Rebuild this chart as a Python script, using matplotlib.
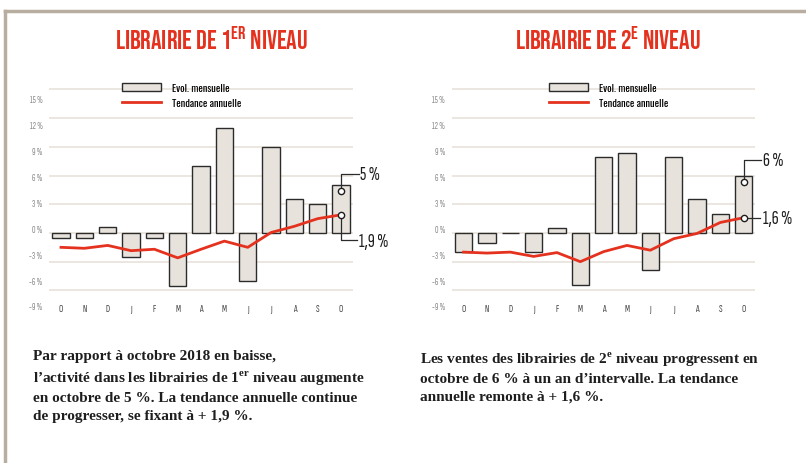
import matplotlib
matplotlib.use('Agg')
import matplotlib.pyplot as plt
from matplotlib.patches import Patch
from matplotlib.lines import Line2D
from matplotlib import font_manager

# Data
# ------------------------------------------------------------------------------
months = ['O', 'N', 'D', 'J', 'F', 'M', 'A', 'M', 'J', 'J', 'A', 'S', 'O']
yticks = [-9, -6, -3, 0, 3, 6, 9, 12, 15]
ytick_labels = ['-9 %', '-6 %', '-3 %', '0 %', '3 %', '6 %', '9 %', '12 %', '15 %']

niv1_mensuel = [-0.5, -0.5, 0.6, -2.5, -0.5, -5.5, 7.0, 11.0, -5.0, 9.0, 3.5, 3.0, 5.0]
niv1_tendance = [-1.5, -1.6, -1.3, -1.85, -1.7, -2.6, -1.7, -0.85, -1.5, 0.05, 0.7, 1.5, 1.9]

niv2_mensuel = [-2.0, -1.0, 0.0, -2.0, 0.5, -5.4, 7.9, 8.4, -3.9, 7.9, 3.5, 2.0, 6.0]
niv2_tendance = [-2.0, -2.1, -2.0, -2.45, -2.05, -3.0, -1.95, -1.3, -1.8, -0.6, -0.05, 1.1, 1.6]

titles = [r'LIBRAIRIE DE 1$^{\mathsf{ER}}$ NIVEAU', r'LIBRAIRIE DE 2$^{\mathsf{E}}$ NIVEAU']
labels_bar = ['5 %', '6 %']
labels_line = ['1,9 %', '1,6 %']
texts = [
    'Par rapport à octobre 2018 en baisse,\n'
    'l’activité dans les librairies de 1$^{\\mathbf{er}}$ niveau augmente\n'
    'en octobre de 5 %. La tendance annuelle continue\n'
    'de progresser, se fixant à + 1,9 %.',
    'Les ventes des librairies de 2$^{\\mathbf{e}}$ niveau progressent en\n'
    'octobre de 6 % à un an d’intervalle. La tendance\n'
    'annuelle remonte à + 1,6 %.',
]

# Style
# ------------------------------------------------------------------------------
names = {f.name for f in font_manager.fontManager.ttflist}


def pick(*cands):
    for c in cands:
        if c in names:
            return c
    return 'DejaVu Sans'


TITLE = pick('Bebas Neue', 'Oswald', 'Fjalla One', 'Anton', 'Roboto Condensed')
LABEL = pick('Oswald', 'Roboto Condensed', 'Sofia Sans Extra Condensed', 'Fjalla One')
THIN = pick('Sofia Sans Extra Condensed', 'Oswald', 'Roboto Condensed', 'Fjalla One')
SERIF = pick('Liberation Serif', 'Source Serif 4', 'DejaVu Serif')
RED = '#e4321f'
BAR = '#e7e3dc'
GRID = '#e9e4dc'
FRAME = '#b8ae9f'
INK = '#1e1e1e'

plt.rcParams['mathtext.fontset'] = 'custom'
plt.rcParams['mathtext.sf'] = TITLE
plt.rcParams['mathtext.bf'] = SERIF + ':bold'

fig = plt.figure(figsize=(8.06, 4.64), dpi=100)

# frame
fig.add_artist(Line2D([0.006, 1.0], [0.974, 0.974], color=FRAME, lw=2.5))
fig.add_artist(Line2D([0.006, 0.006], [0.0, 0.974], color=FRAME, lw=2.5))

panels = [
    (0.0612, niv1_mensuel, niv1_tendance),
    (0.5607, niv2_mensuel, niv2_tendance),
]
title_x = [0.262, 0.754]
text_x = [0.041, 0.521]

for i, (left, mensuel, tendance) in enumerate(panels):
    ax = fig.add_axes([left, 0.3147, 0.3765, 0.5])
    x = range(len(months))
    ax.set_xlim(-0.5, 12.5)
    ax.set_ylim(-8.78, 15.47)
    for s in ax.spines.values():
        s.set_visible(False)
    ax.set_yticks([t for t in yticks if t > -9])
    ax.yaxis.grid(True, color=GRID, lw=1.3)
    ax.set_axisbelow(True)
    ax.tick_params(axis='y', length=0, labelleft=False)
    ax.set_xticks(list(x), months)
    ax.tick_params(axis='x', length=0, pad=-9, labelsize=7.5, labelcolor='#444444')
    for lab in ax.get_xticklabels():
        lab.set_fontfamily(THIN)

    ax.bar(x, mensuel, width=0.74, color=BAR, edgecolor='#2b2b2b', lw=1.0, zorder=2)
    ax.plot(x, tendance, color=RED, lw=2.0, zorder=3, solid_joinstyle='round')

    # y labels (slightly tighter spacing than the grid in the original)
    ax2 = ax.twinx()
    ax2.set_ylim(-10.28, 16.62)
    for s in ax2.spines.values():
        s.set_visible(False)
    ax2.yaxis.set_ticks_position('left')
    ax2.set_yticks(yticks, ytick_labels)
    ax2.tick_params(axis='y', length=0, pad=5, labelsize=7, labelcolor='#8a8a8a')
    for lab in ax2.get_yticklabels():
        lab.set_fontfamily(THIN)

    # legend
    handles = [Patch(facecolor=BAR, edgecolor='#2b2b2b', lw=1.0),
               Line2D([], [], color=RED, lw=2.0)]
    leg_x = 0.239 if i == 0 else 0.319
    ax.legend(handles, ['Evol. mensuelle', 'Tendance annuelle'], loc='upper left',
              bbox_to_anchor=(leg_x, 1.01), frameon=False, borderpad=0, borderaxespad=0,
              handlelength=3.8, handleheight=0.9, handletextpad=1.0, labelspacing=0.55,
              prop={'family': LABEL, 'size': 7.5})

    # end annotations
    n = len(months) - 1
    yb = mensuel[-1] - 0.65
    top = mensuel[-1] + (1.2 if i == 0 else 1.6)
    ax.plot([n, n, n + 0.75], [yb, top, top], color='#2b2b2b', lw=0.9, clip_on=False, zorder=4)
    ax.plot([n], [yb], 'o', ms=4.5, mfc='white', mec=INK, mew=1.0, clip_on=False, zorder=5)
    ax.text(n + 0.82, top, labels_bar[i], ha='left', va='center', fontsize=14,
            family=THIN, color=INK)

    yt = tendance[-1]
    if i == 0:
        low = yt - 2.6
        ax.plot([n, n, n + 0.7], [yt, low, low], color='#2b2b2b', lw=0.9, clip_on=False, zorder=4)
        ax.text(n + 0.76, low - 0.1, labels_line[i], ha='left', va='center', fontsize=14,
                family=THIN, color=INK)
    else:
        ax.plot([n, n + 0.7], [yt, yt], color='#2b2b2b', lw=0.9, clip_on=False, zorder=4)
        ax.text(n + 0.82, yt, labels_line[i], ha='left', va='center', fontsize=14,
                family=THIN, color=INK)
    ax.plot([n], [yt], 'o', ms=4.5, mfc='white', mec=INK, mew=1.0, clip_on=False, zorder=5)

    fig.text(title_x[i], 0.918, titles[i], ha='center', va='center', fontsize=19,
             family=TITLE, weight='bold', color=RED)
    fig.text(text_x[i], 0.245, texts[i], ha='left', va='top', fontsize=11,
             family=SERIF, weight='bold', color=INK, linespacing=1.45)

fig.savefig('out.png', dpi=100)
